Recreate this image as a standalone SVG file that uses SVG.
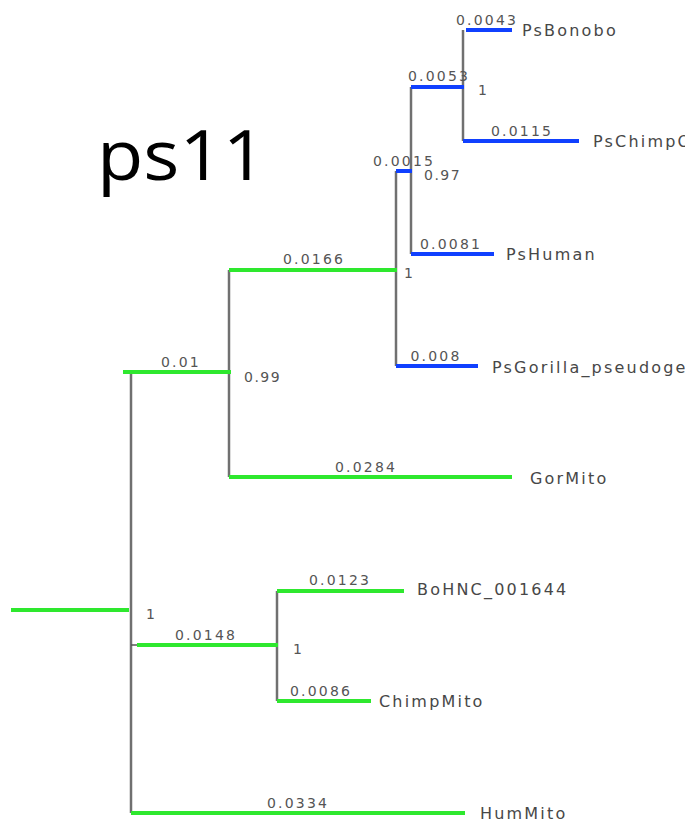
<svg xmlns="http://www.w3.org/2000/svg" width="685" height="822" viewBox="0 0 685 822">
<style>
.v{stroke:#707070;stroke-width:2.5;fill:none}
.g{stroke:#2ee82e;stroke-width:4;fill:none}
.b{stroke:#1040ff;stroke-width:4;fill:none}
.bl{font-family:"DejaVu Sans",sans-serif;font-size:14px;letter-spacing:2.2px;fill:#555;text-anchor:middle}
.sp{font-family:"DejaVu Sans",sans-serif;font-size:14px;letter-spacing:1.5px;fill:#555}
.tx{font-family:"DejaVu Sans",sans-serif;font-size:16px;letter-spacing:2.2px;fill:#474747}
.title{font-family:"Open Sans",sans-serif;font-size:70px;fill:#000}
</style>
<rect width="685" height="822" fill="#fff"/>
<text class="title" x="97" y="180" textLength="169" lengthAdjust="spacingAndGlyphs">ps11</text>
<g id="connectors">
<line class="v" x1="131" y1="372" x2="131" y2="813"/>
<line class="v" x1="229" y1="270" x2="229" y2="477"/>
<line class="v" x1="396" y1="171" x2="396" y2="366"/>
<line class="v" x1="411" y1="87" x2="411" y2="254"/>
<line class="v" x1="463" y1="30" x2="463" y2="141"/>
<line class="v" x1="277" y1="591" x2="277" y2="701"/>
<line stroke="#555" stroke-width="1.5" x1="131" y1="645" x2="137" y2="645"/>
</g>
<g id="root"><line class="g" x1="11" y1="610" x2="129" y2="610"/><text class="sp" x="146" y="619">1</text></g>
<g id="n001"><line class="g" x1="123" y1="372" x2="231" y2="372"/><text class="bl" x="181" y="367">0.01</text><text class="sp" x="244" y="382">0.99</text></g>
<g id="n0166"><line class="g" x1="229" y1="270" x2="397" y2="270"/><text class="bl" x="314" y="264">0.0166</text><text class="sp" x="404" y="278">1</text></g>
<g id="n0015"><line class="b" x1="396" y1="171" x2="412" y2="171"/><text class="bl" x="404" y="166">0.0015</text><text class="sp" x="424" y="180">0.97</text></g>
<g id="n0053"><line class="b" x1="411" y1="87" x2="464" y2="87"/><text class="bl" x="439" y="81">0.0053</text><text class="sp" x="478" y="95">1</text></g>
<g id="PsBonobo"><line class="b" x1="466" y1="30" x2="512" y2="30"/><text class="bl" x="487" y="25">0.0043</text><text class="tx" x="522" y="36">PsBonobo</text></g>
<g id="PsChimp"><line class="b" x1="463" y1="141" x2="579" y2="141"/><text class="bl" x="522" y="136">0.0115</text><text class="tx" x="593" y="147">PsChimpO</text></g>
<g id="PsHuman"><line class="b" x1="411" y1="254" x2="494" y2="254"/><text class="bl" x="451" y="249">0.0081</text><text class="tx" x="506" y="260">PsHuman</text></g>
<g id="PsGorilla"><line class="b" x1="396" y1="366" x2="478" y2="366"/><text class="bl" x="436" y="361">0.008</text><text class="tx" x="492" y="373">PsGorilla_pseudoge</text></g>
<g id="GorMito"><line class="g" x1="229" y1="477" x2="512" y2="477"/><text class="bl" x="366" y="472">0.0284</text><text class="tx" x="530" y="484">GorMito</text></g>
<g id="n0148"><line class="g" x1="137" y1="645" x2="278" y2="645"/><text class="bl" x="206" y="640">0.0148</text><text class="sp" x="293" y="654">1</text></g>
<g id="BoHNC"><line class="g" x1="277" y1="591" x2="404" y2="591"/><text class="bl" x="340" y="585">0.0123</text><text class="tx" x="417" y="595">BoHNC_001644</text></g>
<g id="ChimpMito"><line class="g" x1="277" y1="701" x2="371" y2="701"/><text class="bl" x="321" y="696">0.0086</text><text class="tx" x="379" y="707">ChimpMito</text></g>
<g id="HumMito"><line class="g" x1="131" y1="813" x2="465" y2="813"/><text class="bl" x="298" y="808">0.0334</text><text class="tx" x="480" y="819">HumMito</text></g>
</svg>
